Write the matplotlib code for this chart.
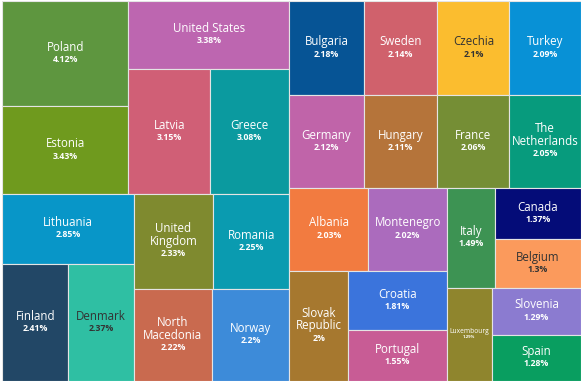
import matplotlib
matplotlib.use('Agg')
import matplotlib.pyplot as plt
from matplotlib.patches import Rectangle
from matplotlib import colors as mcolors
from matplotlib.textpath import TextPath
from matplotlib.font_manager import FontProperties

countries = ["Poland", "Estonia", "United States", "Latvia", "Greece", "Lithuania",
             "Finland", "Denmark", "United Kingdom", "Romania", "North Macedonia", "Norway",
             "Bulgaria", "Sweden", "Germany", "Hungary", "Czechia", "Turkey", "France",
             "The Netherlands", "Albania", "Montenegro", "Slovak Republic", "Croatia",
             "Portugal", "Italy", "Canada", "Belgium", "Luxembourg", "Slovenia", "Spain"]
values = [4.12, 3.43, 3.38, 3.15, 3.08, 2.85,
          2.41, 2.37, 2.33, 2.25, 2.22, 2.2,
          2.18, 2.14, 2.12, 2.11, 2.1, 2.09, 2.06,
          2.05, 2.03, 2.02, 2.0, 1.81,
          1.55, 1.49, 1.37, 1.3, 1.29, 1.29, 1.28]
palette = ["#5e963f", "#6f9a1e", "#bd66b0", "#d05f76", "#0b9a9f", "#0896c8",
           "#224766", "#2fbfa3", "#7f8a2f", "#0a9bb0", "#c96a4f", "#3d8bd9",
           "#065495", "#d0616c", "#c064a9", "#b5743a", "#fbbd2f", "#0891d6", "#758e35",
           "#079b7d", "#f27b40", "#ab6bbd", "#a6782f", "#3b74dc",
           "#c85c95", "#3d9353", "#040c78", "#fb9a5c", "#8f852d", "#8b7bd0", "#099e60"]

W, H = 579.0, 380.0
DPI = 100
FAMILY = ["Open Sans", "DejaVu Sans"]


def binary_treemap(vals, x0, y0, x1, y1):
    n = len(vals)
    sums = [0.0]
    for v in vals:
        sums.append(sums[-1] + v)
    rects = [None] * n

    def partition(i, j, value, x0, y0, x1, y1):
        if i >= j - 1:
            rects[i] = (x0, y0, x1, y1)
            return
        offset = sums[i]
        target = value / 2 + offset
        k, hi = i + 1, j - 1
        while k < hi:
            mid = (k + hi) // 2
            if sums[mid] < target:
                k = mid + 1
            else:
                hi = mid
        if (target - sums[k - 1]) < (sums[k] - target) and i + 1 < k:
            k -= 1
        left = sums[k] - offset
        right = value - left
        if (x1 - x0) > (y1 - y0):
            xk = (x0 * right + x1 * left) / value
            partition(i, k, left, x0, y0, xk, y1)
            partition(k, j, right, xk, y0, x1, y1)
        else:
            yk = (y0 * right + y1 * left) / value
            partition(i, k, left, x0, y0, x1, yk)
            partition(k, j, right, x0, yk, x1, y1)

    partition(0, n, sums[-1], x0, y0, x1, y1)
    return rects


def text_w(s, size, weight="normal"):
    fp = FontProperties(family=FAMILY, weight=weight)
    tp = TextPath((0, 0), s, size=size, prop=fp)
    return tp.get_extents().width * DPI / 72.0


def luminance(c):
    r, g, b = mcolors.to_rgb(c)
    def lin(u):
        return u / 12.92 if u <= 0.04045 else ((u + 0.055) / 1.055) ** 2.4
    return 0.2126 * lin(r) + 0.7152 * lin(g) + 0.0722 * lin(b)


fig = plt.figure(figsize=(5.82, 3.85), dpi=DPI)
ax = fig.add_axes([2 / 582, 4 / 385, W / 582, H / 385])
ax.set_xlim(0, W)
ax.set_ylim(H, 0)
ax.axis('off')

rects = binary_treemap(values, 0, 0, W, H)
for name, val, col, (x0, y0, x1, y1) in zip(countries, values, palette, rects):
    ax.add_patch(Rectangle((x0, y0), x1 - x0, y1 - y0, facecolor=col,
                           edgecolor="#e4e4e4", linewidth=0.8))
    bw = x1 - x0
    avail = bw - 4
    name_size, pct_size, spacing = 8.3, 6.3, 12.8
    lines = [name]
    if text_w(name, name_size) > avail and " " in name:
        lines = name.split(" ")
    widest = max(text_w(l, name_size) for l in lines)
    if widest > avail:
        f = (bw - 6) / widest
        name_size *= f
        pct_size *= f * 0.85
        spacing *= f * 0.8
    tc = "#333333" if luminance(col) > 0.38 else "white"
    cx, cy = (x0 + x1) / 2, (y0 + y1) / 2
    n = len(lines)
    for i, l in enumerate(lines):
        ax.text(cx, cy + (i - n / 2) * spacing, l, ha="center", va="center",
                fontsize=name_size, color=tc, family=FAMILY)
    ax.text(cx, cy + (n / 2) * spacing - 0.5, f"{val:g}%", ha="center", va="center",
            fontsize=pct_size, color=tc, family=FAMILY, weight="bold")

fig.savefig("out.png", dpi=DPI)
